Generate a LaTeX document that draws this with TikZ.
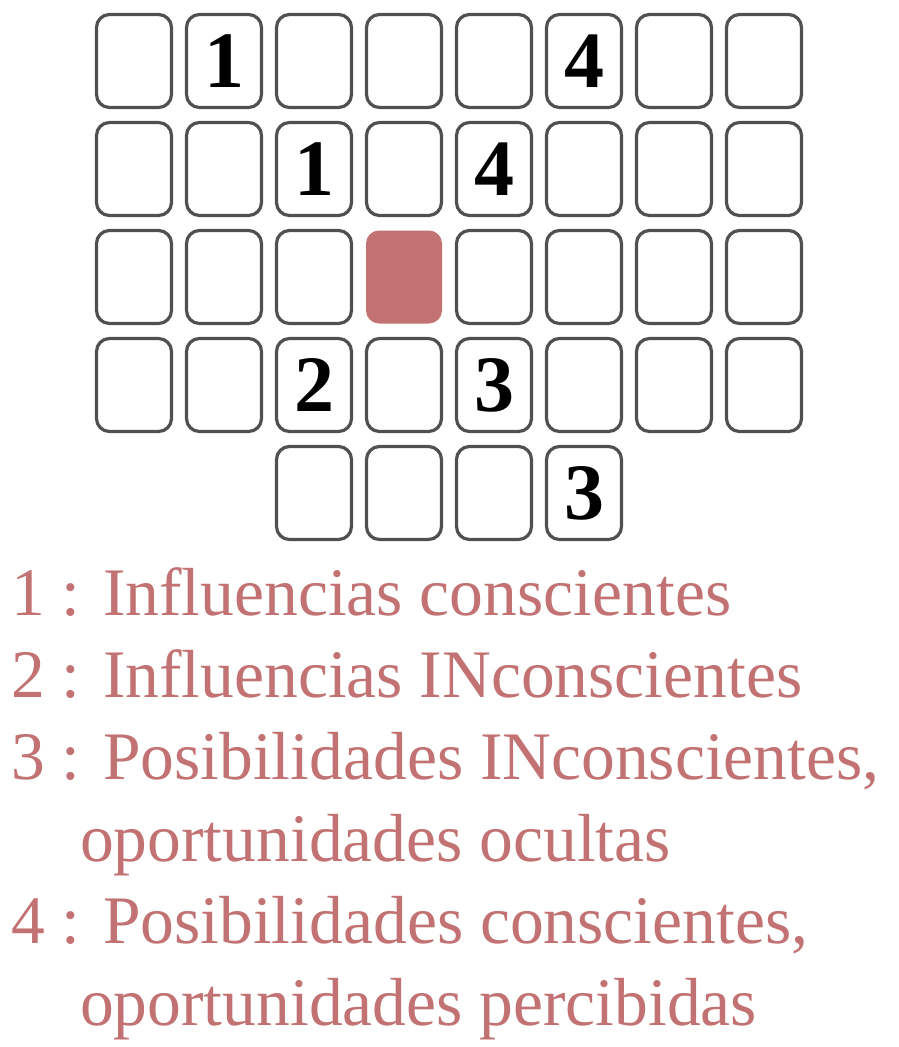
\documentclass[tikz,border=0pt]{standalone}
\usepackage{fontspec}
\setmainfont{Liberation Serif}
\definecolor{boxgray}{HTML}{505050}
\definecolor{rosy}{HTML}{C27272}
\begin{document}
\begin{tikzpicture}[x=1pt,y=-1pt,
  cell/.style={draw=boxgray,line width=3.2pt,rounded corners=13pt,minimum width=75pt,minimum height=93pt,inner sep=0pt,
    font=\fontsize{80}{80}\selectfont\bfseries,text=black},
  filled/.style={fill=rosy,rounded corners=13pt,minimum width=76pt,minimum height=93pt,inner sep=0pt},
  legend/.style={anchor=base west,inner sep=0pt,text=rosy,font=\fontsize{68}{82}\selectfont}]
\useasboundingbox (0,0) rectangle (899,1047);
% grid rows 0-3 : 8 columns (label list per row)
\foreach \r/\labs in {0/{,1,,,,4,,},1/{,,1,,4,,,},3/{,,2,,3,,,}}{
  \foreach [count=\c from 0] \t in \labs {
    \pgfmathsetmacro{\cx}{134+90*\c}
    \pgfmathsetmacro{\cy}{61+108*\r}
    \node[cell] (b-\r-\c) at (\cx,\cy) {\t};
  }
}
% row 2 : empty cells and one filled cell
\foreach \c in {0,1,2,4,5,6,7}{
  \pgfmathsetmacro{\cx}{134+90*\c}
  \node[cell] (b-2-\c) at (\cx,277) {};
}
\node[filled] (b-2-3) at (404,277) {};
% bottom row : columns 2-5
\foreach \c/\t in {2/,3/,4/,5/3}{
  \pgfmathsetmacro{\cx}{134+90*\c}
  \node[cell] (b-4-\c) at (\cx,493) {\t};
}
% legend
\node[legend] (l1) at (11,615) {\scalebox{0.993}[1]{1 : Influencias conscientes}};
\node[legend] (l2) at (11,697) {\scalebox{0.993}[1]{2 : Influencias INconscientes}};
\node[legend] (l3) at (11,779) {\scalebox{0.993}[1]{3 : Posibilidades INconscientes,}};
\node[legend] (l4) at (80,861) {\scalebox{0.993}[1]{oportunidades ocultas}};
\node[legend] (l5) at (11,943) {\scalebox{0.993}[1]{4 : Posibilidades conscientes,}};
\node[legend] (l6) at (80,1025) {\scalebox{0.993}[1]{oportunidades percibidas}};
\end{tikzpicture}
\end{document}
